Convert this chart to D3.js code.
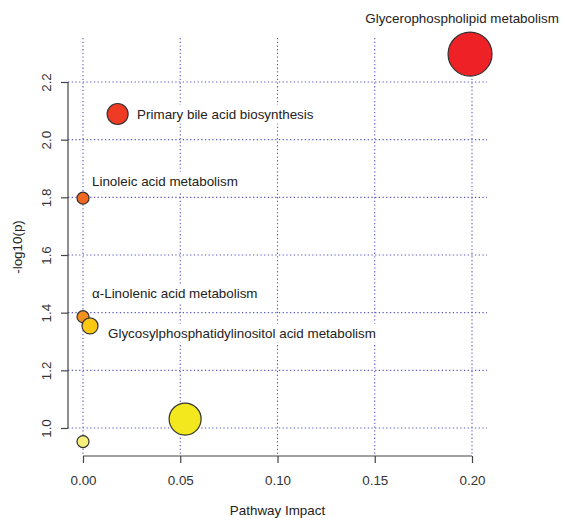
<!DOCTYPE html>
<html>
<head>
<meta charset="utf-8">
<script src="https://cdn.jsdelivr.net/npm/d3@7"></script>
<style>
  body { margin: 0; background: #fff; }
  text { font-family: "Liberation Sans", Arial, sans-serif; }
</style>
</head>
<body>
<div id="chart"></div>
<script>
// pathway names, impact (x), -log10(p) (y), relative bubble size, fill colour
var pathways = [
    "Glycerophospholipid metabolism",
    "Primary bile acid biosynthesis",
    "Linoleic acid metabolism",
    "\u03b1-Linolenic acid metabolism",
    "Glycosylphosphatidylinositol acid metabolism",
    "",
    ""
];
var impact = [0.199, 0.0178, 0.0, 0.0, 0.0036, 0.0525, 0.0];
var logP = [2.297, 2.089, 1.797, 1.386, 1.354, 1.031, 0.953];
var bubbleSize = [22, 10.5, 6, 6, 8, 16, 6];
var fills = ["#ee2127", "#ef3b24", "#f26722", "#f4901f", "#fcc812", "#f3e81e", "#f6ef7c"];
var labelPos = ["above", "right", "aboveRight", "aboveRight", "belowRight", "", ""];

var xTicks = [0.00, 0.05, 0.10, 0.15, 0.20];
var yTicks = [1.0, 1.2, 1.4, 1.6, 1.8, 2.0, 2.2];

var data = pathways.map(function (name, i) {
    return { name: name, impact: impact[i], logP: logP[i], size: bubbleSize[i], fill: fills[i], pos: labelPos[i] };
});

var width = 563, height = 518;
var plot = { left: 68, right: 487, top: 38, bottom: 456 };
var fontSize = '13.4px';

var x = d3.scaleLinear().domain([0, 0.2]).range([83, 472]);
var y = d3.scaleLinear().domain([1.0, 2.2]).range([428, 82]);
var r = d3.scaleLinear().domain([0, 22]).range([0, 22]);

var svg = d3.select('#chart').append('svg')
    .attr('width', width)
    .attr('height', height);

// dotted grid
var grid = svg.append('g').attr('stroke', '#5a5ac8').attr('stroke-width', 1.1)
    .attr('stroke-dasharray', '1.3,2.4');
grid.selectAll('line.v').data(xTicks).enter().append('line')
    .attr('x1', d => x(d)).attr('x2', d => x(d))
    .attr('y1', plot.top).attr('y2', plot.bottom);
grid.selectAll('line.h').data(yTicks).enter().append('line')
    .attr('y1', d => y(d)).attr('y2', d => y(d))
    .attr('x1', plot.left).attr('x2', plot.right);

// axes
var xAxis = d3.axisBottom(x).tickValues(xTicks).tickSize(7).tickPadding(12)
    .tickFormat(d3.format('.2f'));
var gx = svg.append('g').attr('transform', 'translate(0,' + plot.bottom + ')').call(xAxis);

var yAxis = d3.axisLeft(y).tickValues(yTicks).tickSize(7).tickPadding(8)
    .tickFormat(d3.format('.1f'));
var gy = svg.append('g').attr('transform', 'translate(' + plot.left + ',0)').call(yAxis);

[gx, gy].forEach(function (g) {
    g.select('.domain').attr('stroke', '#444').attr('stroke-width', 1.2);
    g.selectAll('.tick line').attr('stroke', '#444').attr('stroke-width', 1.2);
    g.selectAll('.tick text').attr('fill', '#333').style('font-size', fontSize)
        .style('font-family', '"Liberation Sans", Arial, sans-serif');
});
// R style: domain only spans first..last tick
gx.select('.domain').attr('d', 'M' + x(0) + ',0H' + x(0.2));
gy.select('.domain').attr('d', 'M0,' + y(1.0) + 'V' + y(2.2));
gy.selectAll('.tick text')
    .attr('text-anchor', 'middle')
    .attr('dy', '0.35em')
    .attr('transform', 'translate(-22,0) rotate(-90)')
    .attr('x', 0);

svg.append('text')
    .attr('x', (plot.left + plot.right) / 2).attr('y', 515)
    .attr('text-anchor', 'middle').attr('fill', '#222').style('font-size', fontSize)
    .text('Pathway Impact');
svg.append('text')
    .attr('transform', 'translate(22,' + (plot.top + plot.bottom) / 2 + ') rotate(-90)')
    .attr('text-anchor', 'middle').attr('fill', '#222').style('font-size', fontSize)
    .text('-log10(p)');

// labels with white boxes (they interrupt the grid)
var labels = svg.append('g');
data.filter(d => d.name).forEach(function (d) {
    var cx = x(d.impact), cy = y(d.logP), rad = r(d.size);
    var lx, ly, anchor = 'start';
    if (d.pos === 'above') { lx = cx - 8; ly = cy - rad - 14; anchor = 'middle'; }
    else if (d.pos === 'right') { lx = cx + rad + 9; ly = cy; }
    else if (d.pos === 'aboveRight') { lx = cx + 9; ly = cy - (d.logP > 1.5 ? 17 : 23); }
    else { lx = cx + rad + 10; ly = cy + 7; }
    var g = labels.append('g');
    var t = g.append('text')
        .attr('x', lx).attr('y', ly).attr('dy', '0.35em')
        .attr('text-anchor', anchor)
        .attr('fill', '#222').style('font-size', fontSize)
        .text(d.name);
    var bb = t.node().getBBox();
    g.insert('rect', 'text')
        .attr('x', bb.x - 3).attr('y', bb.y - 2)
        .attr('width', bb.width + 6).attr('height', bb.height + 4)
        .attr('fill', '#fff');
});

// bubbles
svg.append('g').selectAll('circle').data(data).enter().append('circle')
    .attr('cx', d => x(d.impact))
    .attr('cy', d => y(d.logP))
    .attr('r', d => r(d.size))
    .attr('fill', d => d.fill)
    .attr('stroke', '#333')
    .attr('stroke-width', 1.2);
</script>
</body>
</html>
